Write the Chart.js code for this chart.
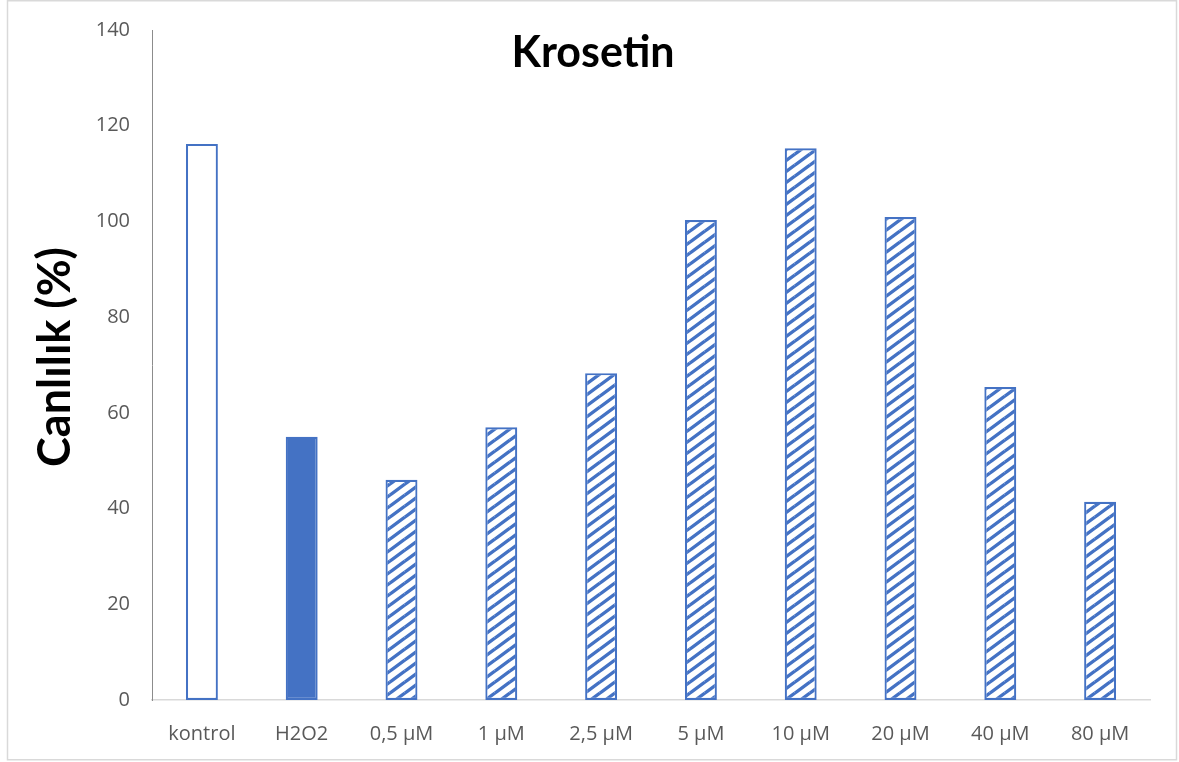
<!DOCTYPE html>
<html>
<head>
<meta charset="utf-8">
<script src="https://cdn.jsdelivr.net/npm/chart.js@4"></script>
<style>
  html, body { margin: 0; padding: 0; background: #fff; }
  #wrap { position: absolute; left: 0; top: 0; width: 1179px; height: 762px; }
</style>
</head>
<body>
<div id="wrap"><canvas id="c" width="1179" height="762"></canvas></div>
<script>
const categories = ['kontrol', 'H2O2', '0,5 µM', '1 µM', '2,5 µM', '5 µM', '10 µM', '20 µM', '40 µM', '80 µM'];
const viability = [116.2, 55.0, 46.0, 57.0, 68.3, 100.3, 115.3, 100.9, 65.4, 41.4];
const yTicks = [0, 20, 40, 60, 80, 100, 120, 140];
const chartTitle = 'Krosetin';
const yTitle = 'Canlılık (%)';

const BLUE = '#4472C4';

// upward diagonal hatch used for the concentration bars
function hatch() {
  const w = 15, h = 11;
  const t = document.createElement('canvas');
  t.width = w; t.height = h;
  const g = t.getContext('2d');
  g.fillStyle = '#ffffff';
  g.fillRect(0, 0, w, h);
  g.strokeStyle = BLUE;
  g.lineWidth = 3.4;
  g.beginPath();
  for (const dx of [-w, 0, w]) {
    g.moveTo(dx, h); g.lineTo(dx + w, 0);
    // neighbouring rows so the stripe ends join up across tiles
    g.moveTo(dx, 2 * h); g.lineTo(dx + w, h);
    g.moveTo(dx, 0); g.lineTo(dx + w, -h);
  }
  g.stroke();
  return document.getElementById('c').getContext('2d').createPattern(t, 'repeat');
}
const stripes = hatch();

const fills = categories.map((_, i) => i === 0 ? '#ffffff' : (i === 1 ? BLUE : stripes));

// frame and titles
const decor = {
  id: 'decor',
  beforeDraw(chart) {
    const ctx = chart.ctx;
    ctx.save();
    ctx.fillStyle = '#fff';
    ctx.fillRect(0, 0, chart.width, chart.height);
    ctx.strokeStyle = '#d9d9d9';
    ctx.lineWidth = 1.5;
    ctx.strokeRect(7.5, 0.75, 1169, 759);
    ctx.restore();
  },
  afterDraw(chart) {
    const ctx = chart.ctx;
    ctx.save();
    ctx.fillStyle = '#000';
    ctx.textAlign = 'center';
    ctx.textBaseline = 'alphabetic';
    ctx.font = 'bold 43px Lato';
    ctx.fillText(chartTitle, 593, 67);
    ctx.translate(55, 357);
    ctx.rotate(-Math.PI / 2);
    ctx.textBaseline = 'middle';
    ctx.font = 'bold 45px Lato';
    ctx.fillText(yTitle, 0, 0);
    ctx.restore();
  }
};

new Chart(document.getElementById('c'), {
  type: 'bar',
  data: {
    labels: categories,
    datasets: [{
      data: viability,
      backgroundColor: fills,
      borderColor: BLUE,
      borderWidth: 2.2,
      borderSkipped: false,
      barPercentage: 0.32,
      categoryPercentage: 1
    }]
  },
  options: {
    responsive: false,
    animation: false,
    layout: { padding: { left: 0, right: 29, top: 30, bottom: 0 } },
    plugins: { legend: { display: false }, title: { display: false }, tooltip: { enabled: false } },
    scales: {
      x: {
        grid: { display: false, drawTicks: false },
        border: { display: true, color: '#d9d9d9', width: 1.5 },
        ticks: { color: '#595959', font: { family: 'Open Sans', size: 20 }, padding: 22, maxRotation: 0 },
        afterFit(s) { s.height = 62; }
      },
      y: {
        min: 0, max: 140,
        afterBuildTicks(s) { s.ticks = yTicks.map(v => ({ value: v })); },
        // tick marks are hidden; their length only sets the label gap
        grid: { display: false, drawTicks: true, tickLength: 22 },
        border: { display: true, color: '#8c8c8c', width: 1 },
        ticks: { color: '#595959', font: { family: 'Open Sans', size: 20 }, padding: 0 },
        afterFit(s) { s.width = 152; }
      }
    }
  },
  plugins: [decor]
});
</script>
</body>
</html>
